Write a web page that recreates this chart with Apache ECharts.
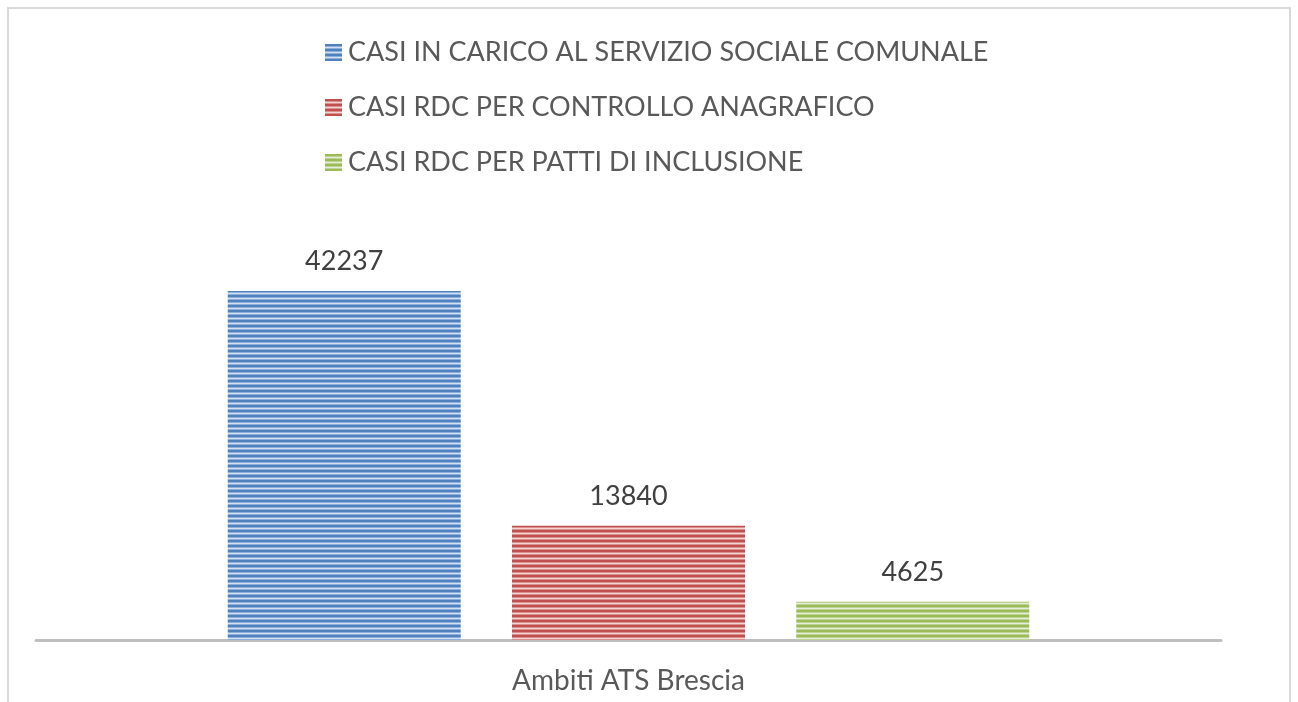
<!DOCTYPE html>
<html>
<head>
<meta charset="utf-8">
<script src="https://cdn.jsdelivr.net/npm/echarts@6/dist/echarts.min.js"></script>
<style>
  html, body { margin: 0; padding: 0; background: #fff; overflow: hidden; }
  #frame {
    position: absolute; left: 7px; top: 7px; width: 1280px; height: 720px;
    border: 2px solid #d9d9d9;
  }
  #myChart { position: absolute; left: 0; top: 0; width: 1298px; height: 702px; }
</style>
</head>
<body>
<div id="frame"></div>
<div id="myChart"></div>
<script>
// dati
const categories = ['Ambiti ATS Brescia']
const seriesNames = [
  'CASI IN CARICO AL SERVIZIO SOCIALE COMUNALE',
  'CASI RDC PER CONTROLLO ANAGRAFICO',
  'CASI RDC PER PATTI DI INCLUSIONE'
]
const casiServizioSociale = [42237]
const casiControlloAnagrafico = [13840]
const casiPattiInclusione = [4625]

// righe orizzontali come nel grafico originale
function stripes(dark, mid, light) {
  const c = document.createElement('canvas')
  c.width = 4
  c.height = 5
  const ctx = c.getContext('2d')
  const rows = [dark, dark, mid, light, mid]
  rows.forEach((col, i) => {
    ctx.fillStyle = col
    ctx.fillRect(0, i, 4, 1)
  })
  return {image: c, repeat: 'repeat'}
}

const fills = [
  stripes('#4f81bd', '#8eaedb', '#d3e0f1'),
  stripes('#c0504d', '#d9908e', '#f2d4d3'),
  stripes('#9bbb59', '#bdd394', '#e6efd5')
]
const values = [casiServizioSociale, casiControlloAnagrafico, casiPattiInclusione]

const font = 'Lato, "Open Sans", sans-serif'

let myChart = echarts.init(document.getElementById('myChart'))
myChart.setOption({
  animation: false,
  legend: {
    orient: 'vertical',
    left: 320,
    top: 34,
    itemWidth: 17,
    itemHeight: 17,
    itemGap: 28,
    icon: 'rect',
    textStyle: {color: '#595959', fontSize: 27, fontFamily: font, padding: [0, 0, 0, 1]},
    data: seriesNames
  },
  grid: {left: 36, right: 77, top: 227, bottom: 62},
  xAxis: {
    type: 'category',
    data: categories,
    axisLine: {lineStyle: {color: '#bfbfbf', width: 3}},
    axisTick: {show: false},
    axisLabel: {color: '#595959', fontSize: 28, fontFamily: font, margin: 27}
  },
  yAxis: {
    type: 'value',
    min: 0,
    max: 50000,
    show: false
  },
  series: seriesNames.map((name, i) => ({
    name: name,
    type: 'bar',
    barWidth: 233,
    barGap: '22%',
    itemStyle: {color: fills[i]},
    label: {
      show: true,
      position: 'top',
      distance: 16,
      color: '#404040',
      fontSize: 27,
      fontFamily: font
    },
    data: values[i]
  }))
})
</script>
</body>
</html>
